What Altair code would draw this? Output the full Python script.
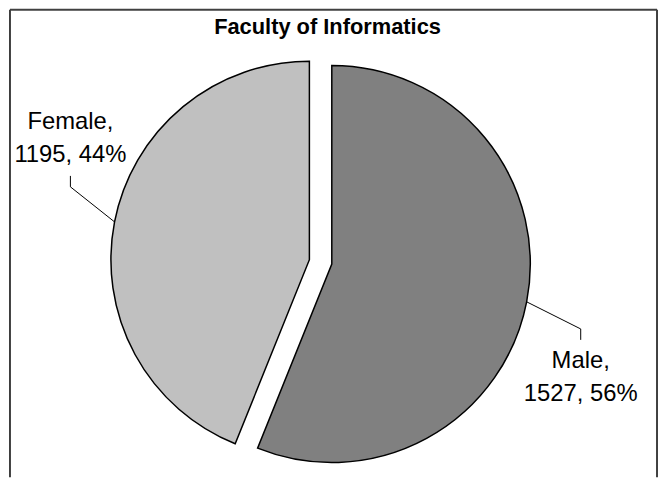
import altair as alt
import pandas as pd

# ---- data ----
categories = ["Male", "Female"]
counts = [1527, 1195]
colors = ["#808080", "#C0C0C0"]
title_text = "Faculty of Informatics"

df = pd.DataFrame({"category": categories, "count": counts, "order": list(range(len(categories)))})

# ---- layout parameters ----
W, H = 655, 471
CX, CY = 315, 254      # pie centre (view coords)
R = 200                # pie radius
EXPLODE = 11.5         # explode distance
LR = 284               # label distance from centre
LOFF = 0.247           # label angle offset (rad)
LDX, LDY = 5, -4       # label block shift
FONT = "Liberation Sans"

base = (
    alt.Chart(df)
    .transform_window(cum="sum(count)", sort=[alt.SortField("order")], frame=[None, 0])
    .transform_joinaggregate(total="sum(count)")
    .transform_calculate(a1="2*PI*datum.cum/datum.total")
    .transform_calculate(a0="2*PI*(datum.cum-datum['count'])/datum.total")
    .transform_calculate(mid="(datum.a0+datum.a1)/2")
    .transform_calculate(cx=f"{CX}+{EXPLODE}*sin(datum.mid)")
    .transform_calculate(cy=f"{CY}-{EXPLODE}*cos(datum.mid)")
    .transform_calculate(ex=f"datum.cx+{R}*sin(datum.mid)")
    .transform_calculate(ey=f"datum.cy-{R}*cos(datum.mid)")
    .transform_calculate(lx=f"{CX}+{LDX}+{LR}*sin(datum.mid+{LOFF})")
    .transform_calculate(ly=f"{CY}+{LDY}-{LR}*cos(datum.mid+{LOFF})")
    .transform_calculate(sgn="cos(datum.mid) > 0 ? 1 : -1")
    .transform_calculate(elby="datum.ly+datum.sgn*49")
    .transform_calculate(endy="datum.ly+datum.sgn*38")
    .transform_calculate(
        label="datum.category + ',\\n' + datum['count'] + ', ' + round(100*datum['count']/datum.total) + '%'"
    )
)

arcs = base.mark_arc(radius=R, stroke="black", strokeWidth=1.5).encode(
    x=alt.X("cx:Q", scale=None),
    y=alt.Y("cy:Q", scale=None),
    theta=alt.Theta("a0:Q", scale=None, stack=None),
    theta2="a1:Q",
    color=alt.Color("category:N", scale=alt.Scale(domain=categories, range=colors), legend=None),
)

leader1 = base.mark_rule(color="black", strokeWidth=1).encode(
    x=alt.X("ex:Q", scale=None),
    y=alt.Y("ey:Q", scale=None),
    x2="lx:Q",
    y2="elby:Q",
)
leader2 = base.mark_rule(color="black", strokeWidth=1).encode(
    x=alt.X("lx:Q", scale=None),
    y=alt.Y("elby:Q", scale=None),
    x2="lx:Q",
    y2="endy:Q",
)

labels = base.mark_text(
    font=FONT, fontSize=24, lineHeight=33, lineBreak="\n", align="center", baseline="middle",
    dy=-16.5, color="black"
).encode(
    x=alt.X("lx:Q", scale=None),
    y=alt.Y("ly:Q", scale=None),
    text="label:N",
)

tdf = pd.DataFrame({"t": [title_text]})
title = alt.Chart(tdf).mark_text(
    font=FONT, fontSize=22, fontWeight="bold", align="center", baseline="alphabetic", color="black"
).encode(text="t:N", x=alt.value(322), y=alt.value(24))

frame_df = pd.DataFrame({"k": [0]})
border_left = alt.Chart(frame_df).mark_rule(color="black", strokeWidth=1.5).encode(
    x=alt.value(2), y=alt.value(0), y2=alt.value(H)
)
border_right = alt.Chart(frame_df).mark_rule(color="black", strokeWidth=1.5).encode(
    x=alt.value(654), y=alt.value(0), y2=alt.value(H)
)
border_top = alt.Chart(frame_df).mark_rule(color="#404040", strokeWidth=2).encode(
    x=alt.value(2), x2=alt.value(654), y=alt.value(0)
)

chart = (
    alt.layer(border_left, border_right, border_top, arcs, leader1, leader2, labels, title)
    .properties(width=W, height=H, autosize=alt.AutoSizeParams(type="none"), padding=0, background="white")
    .configure_view(stroke=None)
)

chart.save("out.html", embed_options={"renderer": "svg", "actions": False})
